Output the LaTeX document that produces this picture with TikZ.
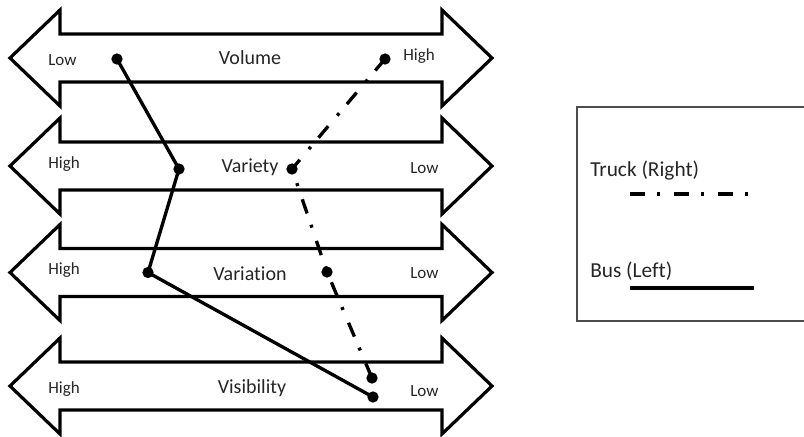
\documentclass[tikz,border=0pt]{standalone}
\usepackage{fontspec}
\setmainfont{Carlito}[Ligatures={NoCommon}]
\begin{document}
\begin{tikzpicture}[x=0.75pt,y=-0.75pt,
  band/.style={draw=black, line width=2.4pt, fill=white, line join=miter},
  rowlbl/.style={font=\fontsize{15}{18}\selectfont, text=black!85, anchor=base, inner sep=0},
  endlbl/.style={font=\fontsize{12.75}{15}\selectfont, text=black!85, inner sep=0},
  dot/.style={circle, fill=black, inner sep=0, minimum size=8.5pt},
  busline/.style={line width=2.5pt},
  truckline/.style={line width=2.5pt, dash pattern=on 11.25pt off 9pt on 2.25pt off 10.5pt},
  legbus/.style={line width=3pt},
  legtruck/.style={line width=3pt, dash pattern=on 11.25pt off 9pt on 2.25pt off 10.5pt},
  legtext/.style={font=\fontsize{16}{19}\selectfont, text=black!85, anchor=base west, inner sep=0}
]
\useasboundingbox (0,0) rectangle (804,436);

% four double-headed scale bands
\foreach \c in {58,166,272.5,386}{
  \path[band] (10,\c) -- (60,{\c-48}) -- (60,{\c-24}) -- (442,{\c-24}) -- (442,{\c-48})
    -- (492,\c) -- (442,{\c+48}) -- (442,{\c+24}) -- (60,{\c+24}) -- (60,{\c+48}) -- cycle;
}

% band titles
\node[rowlbl] (tVol) at (250,64) {Volume};
\node[rowlbl] (tVar) at (250,172) {Variety};
\node[rowlbl] (tVrn) at (250,280) {Variation};
\node[rowlbl] (tVis) at (252,393) {Visibility};

% scale ends
\node[endlbl, anchor=base west] (l1) at (48,65.5) {Low};
\node[endlbl, anchor=base west] (r1) at (403,60.5) {High};
\node[endlbl, anchor=base west] (l2) at (48,168.5) {High};
\node[endlbl, anchor=base west] (r2) at (410,173.5) {Low};
\node[endlbl, anchor=base west] (l3) at (48,274.5) {High};
\node[endlbl, anchor=base west] (r3) at (410,278.5) {Low};
\node[endlbl, anchor=base west] (l4) at (48,393.5) {High};
\node[endlbl, anchor=base west] (r4) at (410,396) {Low};

% data points
\node[dot] (b1) at (117,59) {};
\node[dot] (b2) at (179,169) {};
\node[dot] (b3) at (148,272.5) {};
\node[dot] (b4) at (373,397) {};
\node[dot] (t1) at (385,59) {};
\node[dot] (t2) at (292,169) {};
\node[dot] (t3) at (327,272) {};
\node[dot] (t4) at (372,378) {};

% profiles
\draw[busline] (b1.center) -- (b2.center) -- (b3.center) -- (b4.center);
\draw[truckline] (t1.center) -- (t2.center) -- (t3.center) -- (t4.center);

% legend
\draw[draw=black!70, line width=0.8pt] (577,107) rectangle (812,321);
\node[legtext] (legT) at (590,176) {Truck (Right)};
\node[legtext] (legB) at (590,277.5) {Bus (Left)};
\coordinate (lt1) at (630,194);
\coordinate (lt2) at (752,194);
\coordinate (lb1) at (630,288);
\coordinate (lb2) at (754,288);
\draw[legtruck] (lt1) -- (lt2);
\draw[legbus] (lb1) -- (lb2);
\end{tikzpicture}
\end{document}
